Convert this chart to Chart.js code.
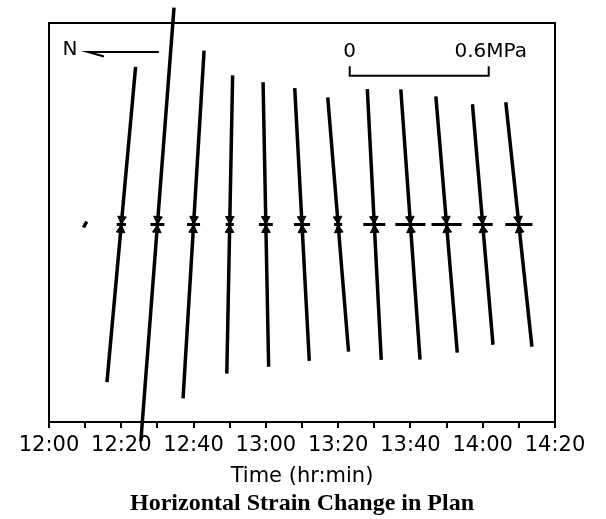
<!DOCTYPE html>
<html>
<head>
<meta charset="utf-8">
<script src="https://cdn.jsdelivr.net/npm/chart.js@4.4.1/dist/chart.umd.min.js"></script>
<style>
  html, body { margin: 0; padding: 0; background: #fff; }
  #wrap { width: 606px; height: 519px; }
</style>
</head>
<body>
<div id="wrap"><canvas id="strainChart" width="606" height="519"></canvas></div>
<script>
// readings, minutes after 12:00
const times = [10, 20, 30, 40, 50, 60, 70, 80, 90, 100, 110, 120, 130];
// major strain change, MPa (full length of the long line)
const majorMPa = [0.03, 1.39, 1.91, 1.53, 1.31, 1.25, 1.20, 1.12, 1.19, 1.19, 1.13, 1.06, 1.08];
// direction of the long line, degrees clockwise from vertical
const majorAngle = [27, 5.1, 4.3, 3.4, 1.1, -1.1, -3.0, -4.6, -2.9, -4.0, -4.7, -4.8, -6.0];
// minor strain change, MPa (full length of the cross bar)
const minorMPa = [0, 0.04, 0.06, 0.056, 0.035, 0.06, 0.07, 0.035, 0.095, 0.13, 0.13, 0.086, 0.117];
const tickLabels = ['12:00', '12:20', '12:40', '13:00', '13:20', '13:40', '14:00', '14:20'];
const scaleBar = [0, 0.6];

// minutes on the x axis that take the same length as 1 MPa on the y axis
const MIN_PER_MPA = 64.1;

function seg(t, len, deg) {
    const a = deg * Math.PI / 180;
    const dx = len / 2 * Math.sin(a) * MIN_PER_MPA;
    const dy = len / 2 * Math.cos(a);
    return [{x: t + dx, y: dy}, {x: t - dx, y: -dy}, {x: t, y: null}];
}

const majorLines = [];
const minorLines = [];
const marks = [];
const markRot = [];
times.forEach(function (t, i) {
    majorLines.push(...seg(t, majorMPa[i], majorAngle[i]));
    if (minorMPa[i] > 0) minorLines.push(...seg(t, minorMPa[i], 90));
    if (i > 0) {
        const p = seg(t, 0.048, majorAngle[i]);
        marks.push(p[0], p[1]);
        markRot.push(180 + majorAngle[i], majorAngle[i]);
    }
});

// scale bar and north arrow, in axis units
const barX = 83.2, barY = 0.653, barTick = 0.042;
const barEnd = barX + scaleBar[1] * MIN_PER_MPA;
const scaleBarPts = [
    {x: barX, y: barY + barTick}, {x: barX, y: barY},
    {x: barEnd, y: barY}, {x: barEnd, y: barY + barTick}
];
const arrowPts = [{x: 30.4, y: 0.758}, {x: 10.8, y: 0.758}, {x: 15.2, y: 0.738}];

const framePlugin = {
    id: 'frame',
    afterDatasetsDraw(chart) {
        const ctx = chart.ctx;
        const a = chart.chartArea;
        const xs = chart.scales.x, ys = chart.scales.y;
        ctx.save();
        ctx.strokeStyle = '#000';
        ctx.lineWidth = 2;
        ctx.strokeRect(a.left, a.top, a.right - a.left, a.bottom - a.top);
        ctx.fillStyle = '#000';
        ctx.font = '20px "DejaVu Sans"';
        ctx.textAlign = 'center';
        ctx.textBaseline = 'middle';
        ctx.fillText('N', xs.getPixelForValue(5.8), ys.getPixelForValue(0.768));
        ctx.fillText(String(scaleBar[0]), xs.getPixelForValue(barX), ys.getPixelForValue(0.76));
        ctx.fillText(scaleBar[1] + 'MPa', xs.getPixelForValue(barEnd) + 2, ys.getPixelForValue(0.76));
        ctx.restore();
    }
};

const lineStyle = {
    type: 'line', borderColor: '#000', pointRadius: 0, spanGaps: false,
    fill: false, clip: false, tension: 0
};

new Chart(document.getElementById('strainChart'), {
    type: 'line',
    data: {
        datasets: [
            Object.assign({label: 'major', data: majorLines, borderWidth: 3.5}, lineStyle),
            Object.assign({label: 'minor', data: minorLines, borderWidth: 3}, lineStyle),
            {
                type: 'scatter', label: 'marks', data: marks, clip: false,
                pointStyle: 'triangle', pointRadius: 5, pointRotation: markRot,
                backgroundColor: '#000', borderColor: '#000', borderWidth: 1
            },
            Object.assign({label: 'scale', data: scaleBarPts, borderWidth: 2}, lineStyle),
            Object.assign({label: 'north', data: arrowPts, borderWidth: 2}, lineStyle)
        ]
    },
    options: {
        responsive: false,
        animation: false,
        devicePixelRatio: 1,
        layout: {padding: {left: 49, right: 51, top: 23, bottom: 1}},
        plugins: {
            legend: {display: false},
            tooltip: {enabled: false},
            title: {
                display: true,
                position: 'bottom',
                text: 'Horizontal Strain Change in Plan',
                color: '#000',
                font: {family: '"Liberation Serif"', size: 24, weight: 'bold', lineHeight: 1.2},
                padding: {top: 0, bottom: 0}
            }
        },
        scales: {
            x: {
                type: 'linear',
                min: 0,
                max: 140,
                grid: {drawOnChartArea: false, drawTicks: true, tickLength: 6, color: '#000', lineWidth: 2},
                border: {display: true, color: '#000', width: 2},
                ticks: {
                    stepSize: 10,
                    padding: 7,
                    color: '#000',
                    maxRotation: 0,
                    autoSkip: false,
                    font: {family: '"DejaVu Sans"', size: 21, lineHeight: 1.0},
                    callback: function (v) { return v % 20 === 0 ? tickLabels[v / 20] : ''; }
                },
                title: {
                    display: true,
                    text: 'Time (hr:min)',
                    color: '#000',
                    font: {family: '"DejaVu Sans"', size: 21, lineHeight: 1.2},
                    padding: {top: 1, bottom: 0}
                }
            },
            y: {
                display: false,
                min: -0.8675,
                max: 0.885
            }
        }
    },
    plugins: [framePlugin]
});
</script>
</body>
</html>
